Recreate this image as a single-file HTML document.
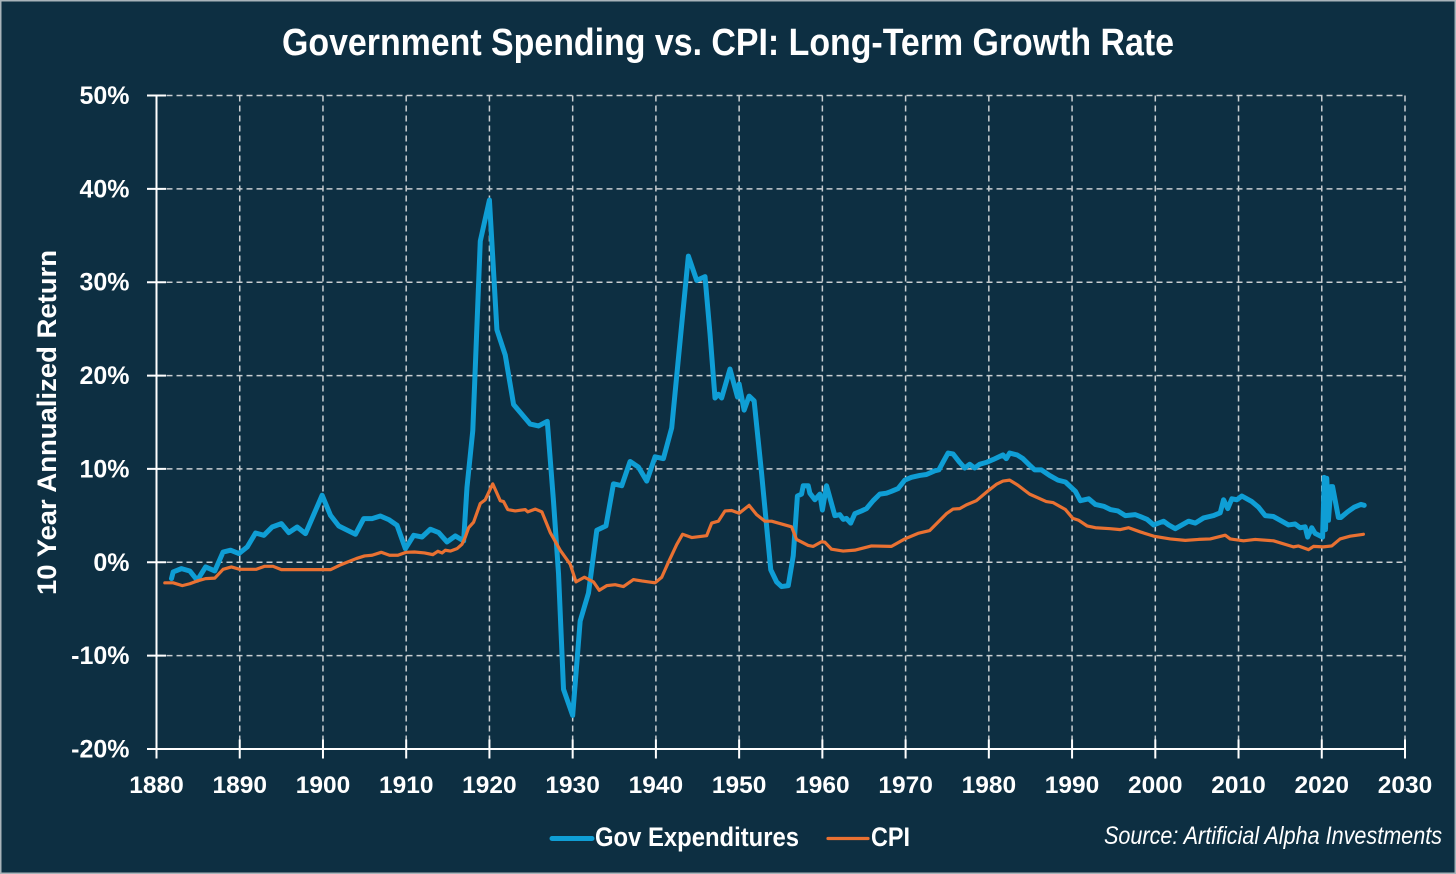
<!DOCTYPE html>
<html lang="en">
<head>
<meta charset="utf-8">
<title>Government Spending vs. CPI: Long-Term Growth Rate</title>
<style>
html,body{margin:0;padding:0;background:#0d2f42;}
svg{display:block;}
text{font-family:"Liberation Sans",sans-serif;fill:#fff;}
</style>
</head>
<body>
<svg id="chart" xmlns="http://www.w3.org/2000/svg" width="1456" height="874" viewBox="0 0 1456 874">
  <rect x="0.75" y="0.75" width="1454.5" height="872.5" fill="#0d2f42" stroke="#a9b4ba" stroke-width="1.5"/>
  <text x="282" y="55" font-size="38" font-weight="700" textLength="892" lengthAdjust="spacingAndGlyphs">Government Spending vs. CPI: Long-Term Growth Rate</text>
  <g id="grid"></g>
  <g id="axes"></g>
  <g id="y-labels"></g>
  <g id="x-labels"></g>
  <text transform="translate(56,595) rotate(-90)" x="0" y="0" font-size="27" font-weight="700" textLength="345" lengthAdjust="spacingAndGlyphs">10 Year Annualized Return</text>
  <polyline id="gov-line" fill="none" stroke="#0f9ed5" stroke-width="5" stroke-linejoin="round" stroke-linecap="round"/>
  <polyline id="cpi-line" fill="none" stroke="#e97132" stroke-width="3.2" stroke-linejoin="round" stroke-linecap="round"/>
  <g>
    <line x1="552" y1="838.5" x2="592" y2="838.5" stroke="#0f9ed5" stroke-width="5" stroke-linecap="round"/>
    <text x="595" y="846" font-size="27" font-weight="700" textLength="204" lengthAdjust="spacingAndGlyphs">Gov Expenditures</text>
    <line x1="828" y1="838.5" x2="868" y2="838.5" stroke="#e97132" stroke-width="3.2" stroke-linecap="round"/>
    <text x="871" y="846" font-size="27" font-weight="700" textLength="39" lengthAdjust="spacingAndGlyphs">CPI</text>
  </g>
  <text x="1104" y="844" font-size="25" font-style="italic" textLength="338" lengthAdjust="spacingAndGlyphs">Source: Artificial Alpha Investments</text>
</svg>
<script>
const xTickLabels = [1880,1890,1900,1910,1920,1930,1940,1950,1960,1970,1980,1990,2000,2010,2020,2030];
const yTickLabels = [50,40,30,20,10,0,-10,-20];

const govYears = [1881.8,1882,1883,1884,1884.9,1885.9,1887,1888,1888.9,1889.9,1890.9,1891.9,1892.9,1893.9,1895,1895.9,1896.9,1897.9,1899.9,1900.9,1901.9,1903.9,1904.9,1905.9,1906.9,1907.9,1908.9,1909.9,1910.9,1911.9,1912.9,1913.9,1914.9,1915.9,1916.9,1917.3,1918,1918.9,1920,1920.9,1921.9,1922.9,1924.9,1925.9,1926.95,1927.7,1928.3,1928.9,1930,1930.9,1931.9,1932.9,1934,1934.9,1935.9,1936.9,1937.9,1938.9,1939.9,1940.9,1941.9,1942.7,1943.9,1944.9,1945.9,1946.5,1947.1,1947.5,1947.9,1948.9,1949.8,1950,1950.6,1951.2,1951.8,1952.7,1953.8,1954.5,1955.1,1955.9,1956.5,1957,1957.5,1957.7,1958.3,1958.5,1959.1,1959.7,1960,1960.5,1961.5,1962.1,1962.5,1962.9,1963.4,1963.9,1964.7,1965.3,1966.1,1966.9,1967.7,1968.3,1969.1,1969.9,1970.7,1971.7,1972.5,1973.5,1974,1974.6,1975.1,1975.7,1976.5,1977.1,1977.7,1978.3,1978.9,1979.7,1980.5,1981.7,1982.1,1982.5,1983.4,1984.1,1984.9,1985.5,1986.3,1987.3,1988.3,1989.2,1989.8,1990.4,1991,1992,1992.8,1993.8,1994.6,1995.5,1996.4,1997.6,1998.2,1999,1999.8,2001,2001.6,2002.4,2003.2,2004,2004.8,2005.8,2007,2007.8,2008.2,2008.7,2009.2,2009.8,2010.4,2011,2011.6,2012.4,2013.2,2014.2,2015.2,2016,2016.8,2017.4,2018,2018.3,2018.8,2019.2,2020.1,2020.3,2020.45,2020.6,2020.8,2021.1,2021.3,2022,2022.3,2023.1,2023.9,2024.7,2025.1];
const govValues = [-1.75,-1.04,-0.68,-0.93,-1.93,-0.5,-0.93,1.1,1.29,0.93,1.64,3.14,2.89,3.78,4.14,3.18,3.78,3.07,7.18,5.04,3.89,3,4.68,4.68,4.96,4.57,3.96,1.46,2.89,2.71,3.54,3.18,2.18,2.82,2.29,8,14.1,34.4,38.8,24.9,22.2,16.9,14.8,14.6,15.1,6.5,-1.2,-13.6,-16.4,-6.3,-3.3,3.43,3.9,8.4,8.2,10.8,10.2,8.7,11.3,11.1,14.4,21.8,32.8,30.2,30.6,24.5,17.6,18,17.6,20.7,17.7,19.1,16.3,17.8,17.3,9.5,-0.8,-2.1,-2.6,-2.5,0.7,7.1,7.3,8.2,8.2,7.4,6.7,7.3,5.6,8.2,5,5.1,4.6,4.7,4.2,5.2,5.5,5.75,6.6,7.3,7.4,7.6,7.9,8.8,9.1,9.3,9.4,9.8,9.9,10.9,11.7,11.6,10.7,10.1,10.5,10.1,10.5,10.7,11,11.5,11.1,11.7,11.5,11.1,10.4,9.9,9.9,9.3,8.8,8.6,8.1,7.6,6.6,6.8,6.2,6,5.65,5.5,5,5.1,4.9,4.6,4,4.4,4,3.6,4,4.4,4.2,4.75,5,5.3,6.7,5.75,6.8,6.7,7.1,6.8,6.5,5.9,5,4.9,4.4,4,4.1,3.7,3.8,2.7,3.7,3.1,2.7,9.1,3.5,9,4.5,8.1,8.1,4.8,4.8,5.4,5.9,6.2,6.1];

const cpiYears = [1881,1882,1883.1,1884,1884.9,1885.9,1887,1888,1889,1890,1892,1893,1894,1895,1900.9,1902,1903,1904,1905,1905.9,1907,1908,1909,1910,1911,1912.2,1913.2,1913.8,1914.3,1914.7,1915.3,1916.1,1916.7,1917.1,1917.5,1918.1,1918.9,1919.5,1920.4,1921.3,1921.7,1922.2,1923.1,1924.3,1924.6,1925.5,1926.3,1927.3,1928.5,1929.7,1930.4,1931.4,1932.5,1933.2,1934.1,1935.1,1936.1,1937.3,1938.3,1939.9,1940.7,1941.5,1942.5,1943.2,1944.3,1946.1,1946.7,1947.5,1948.3,1949.1,1950,1951.2,1952.1,1953.1,1953.9,1956.3,1956.9,1958.3,1958.9,1959.9,1960.3,1961.1,1962.5,1963.9,1965.9,1968.3,1969.9,1971.5,1972.9,1974.9,1975.7,1976.5,1977.3,1978.5,1979.9,1980.9,1981.7,1982.5,1983.5,1984.9,1986.9,1987.7,1989.2,1990.1,1990.8,1991.8,1992.8,1994.6,1995.8,1996.8,1998.2,1999.8,2001.8,2003.6,2005.2,2006.6,2008.4,2009,2010.6,2012,2014.2,2016.6,2017.2,2018.4,2019,2020.2,2021.2,2022.2,2023.4,2025];
const cpiValues = [-2.2,-2.2,-2.5,-2.3,-2,-1.75,-1.7,-0.75,-0.5,-0.75,-0.75,-0.43,-0.43,-0.79,-0.79,-0.32,0.04,0.4,0.68,0.75,1.07,0.75,0.75,1.07,1.1,1,0.82,1.18,1,1.29,1.2,1.46,1.93,2.7,3.7,4.3,6.3,6.7,8.4,6.6,6.5,5.65,5.5,5.65,5.4,5.7,5.4,3.2,1.3,-0.2,-2.1,-1.6,-2.1,-3,-2.5,-2.4,-2.6,-1.85,-2,-2.2,-1.6,0,1.9,3,2.65,2.85,4.2,4.4,5.5,5.55,5.25,6.1,5.1,4.4,4.4,3.8,2.45,1.8,1.7,2.2,2.15,1.4,1.2,1.3,1.75,1.7,2.5,3.1,3.4,5.2,5.7,5.75,6.15,6.6,7.65,8.35,8.7,8.8,8.25,7.3,6.5,6.4,5.65,4.7,4.5,3.9,3.7,3.6,3.5,3.7,3.25,2.8,2.5,2.35,2.45,2.5,2.9,2.5,2.3,2.45,2.3,1.65,1.75,1.35,1.7,1.65,1.75,2.5,2.8,3];

const plotLeft = 156.5, plotRight = 1405, plotTop = 95.5, plotBottom = 749;
const xMin = 1880, xMax = 2030, yMin = -20, yMax = 50;
function xScale(v){ return plotLeft + (v - xMin) / (xMax - xMin) * (plotRight - plotLeft); }
function yScale(v){ return plotBottom - (v - yMin) / (yMax - yMin) * (plotBottom - plotTop); }

const NS = 'http://www.w3.org/2000/svg';
const grid = document.getElementById('grid');
const axes = document.getElementById('axes');
const yLabels = document.getElementById('y-labels');
const xLabels = document.getElementById('x-labels');

function makeLine(x1, y1, x2, y2, stroke, width, dash){
  const l = document.createElementNS(NS, 'line');
  l.setAttribute('x1', x1);
  l.setAttribute('y1', y1);
  l.setAttribute('x2', x2);
  l.setAttribute('y2', y2);
  l.setAttribute('stroke', stroke);
  l.setAttribute('stroke-width', width);
  if (dash) l.setAttribute('stroke-dasharray', dash);
  return l;
}

yTickLabels.forEach(function(v){
  const y = yScale(v);
  if (v !== yMin) {
    const g = makeLine(plotLeft, y, plotRight, y, '#c9ced1', 1.5, '6 4');
    
    
    grid.appendChild(g);
  }
  const t = makeLine(plotLeft - 9.5, y, plotLeft + 9.5, y, '#ffffff', 2);
  
  
  axes.appendChild(t);
  const label = document.createElementNS(NS, 'text');
  
  
  label.setAttribute('x', 129.5);
  label.setAttribute('y', y + 8.5);
  label.setAttribute('font-size', '25');
  label.setAttribute('font-weight', '700');
  label.setAttribute('text-anchor', 'end');
  label.textContent = v + '%';
  yLabels.appendChild(label);
});

xTickLabels.forEach(function(v){
  const x = xScale(v);
  if (v !== xMin) {
    const g = makeLine(x, plotTop, x, plotBottom, '#c9ced1', 1.5, '6 4');
    
    
    grid.appendChild(g);
  }
  const t = makeLine(x, plotBottom - 9.5, x, plotBottom + 9.5, '#ffffff', 2);
  
  
  axes.appendChild(t);
  const label = document.createElementNS(NS, 'text');
  
  
  label.setAttribute('x', x);
  label.setAttribute('y', 793);
  label.setAttribute('font-size', '24.5');
  label.setAttribute('font-weight', '700');
  label.setAttribute('text-anchor', 'middle');
  label.textContent = v;
  xLabels.appendChild(label);
});

const yAxisLine = makeLine(plotLeft, plotTop, plotLeft, plotBottom + 9.5, '#ffffff', 2);


axes.appendChild(yAxisLine);

const xAxisLine = makeLine(plotLeft - 9.5, plotBottom, plotRight, plotBottom, '#ffffff', 2);


axes.appendChild(xAxisLine);

function toPoints(xs, ys){
  return xs.map(function(x, i){ return xScale(x).toFixed(2) + ',' + yScale(ys[i]).toFixed(2); }).join(' ');
}
document.getElementById('gov-line').setAttribute('points', toPoints(govYears, govValues));
document.getElementById('cpi-line').setAttribute('points', toPoints(cpiYears, cpiValues));
</script>
</body>
</html>
